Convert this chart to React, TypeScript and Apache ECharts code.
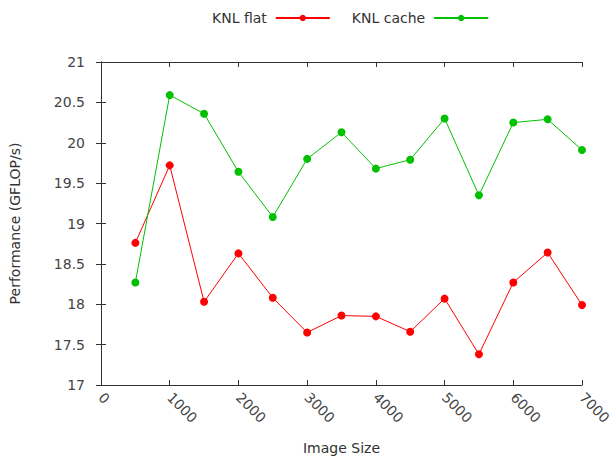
import React, { useEffect, useRef } from "react";
import * as echarts from "echarts";

const imageSizes = [500, 1000, 1500, 2000, 2500, 3000, 3500, 4000, 4500, 5000, 5500, 6000, 6500, 7000];
const knlFlat = [18.76, 19.72, 18.03, 18.63, 18.08, 17.65, 17.86, 17.85, 17.66, 18.07, 17.38, 18.27, 18.64, 17.99];
const knlCache = [18.27, 20.59, 20.36, 19.64, 19.08, 19.8, 20.13, 19.68, 19.79, 20.3, 19.35, 20.25, 20.29, 19.91];

const FONT = "DejaVu Sans";

export default function App() {
  const ref = useRef<HTMLDivElement>(null);
  useEffect(() => {
    const chart = echarts.init(ref.current!, null, { renderer: "svg" });
    const mk = (arr: number[]) => imageSizes.map((x, i) => [x, arr[i]]);
    const axisLine = { show: true, lineStyle: { color: "#333", width: 1 } };
    const tick = { show: true, inside: true, length: 5, lineStyle: { color: "#333" } };
    chart.setOption({
      animation: false,
      textStyle: { fontFamily: FONT },
      legend: {
        top: 6,
        left: 207,
        align: "right",
        itemWidth: 54,
        itemHeight: 8,
        itemGap: 21,
        textStyle: { fontFamily: FONT, fontSize: 14, color: "#333", padding: [0, 4, 0, 0] },
        data: ["KNL flat", "KNL cache"],
      },
      grid: { left: 101, right: 30, top: 62, bottom: 74, outerBoundsMode: "none" },
      xAxis: [
        {
          type: "value",
          min: 0,
          max: 7000,
          interval: 1000,
          name: "Image Size",
          nameLocation: "middle",
          nameGap: 56,
          nameTextStyle: { fontFamily: FONT, fontSize: 14, color: "#333" },
          axisLine,
          axisTick: tick,
          splitLine: { show: false },
          axisLabel: {
            rotate: -45,
            fontFamily: FONT,
            fontSize: 14,
            color: "#444",
            margin: 10,
            formatter: (v: number) => String(v),
          },
        },
        {
          type: "value",
          position: "top",
          min: 0,
          max: 7000,
          interval: 1000,
          axisLine,
          axisTick: tick,
          splitLine: { show: false },
          axisLabel: { show: false },
        },
      ],
      yAxis: [
        {
          type: "value",
          min: 17,
          max: 21,
          interval: 0.5,
          name: "Performance (GFLOP/s)",
          nameLocation: "middle",
          nameGap: 79,
          nameTextStyle: { fontFamily: FONT, fontSize: 14, color: "#333" },
          axisLine,
          axisTick: tick,
          splitLine: { show: false },
          axisLabel: { fontFamily: FONT, fontSize: 14, color: "#444", margin: 16 },
        },
        {
          type: "value",
          position: "right",
          min: 17,
          max: 21,
          interval: 0.5,
          axisLine,
          axisTick: tick,
          splitLine: { show: false },
          axisLabel: { show: false },
        },
      ],
      series: [
        {
          name: "KNL flat",
          type: "line",
          data: mk(knlFlat),
          symbol: "circle",
          symbolSize: 8,
          itemStyle: { color: "#ff0000" },
          lineStyle: { color: "#ff0000", width: 1 },
        },
        {
          name: "KNL cache",
          type: "line",
          data: mk(knlCache),
          symbol: "circle",
          symbolSize: 8,
          itemStyle: { color: "#00c000" },
          lineStyle: { color: "#00c000", width: 1 },
        },
      ],
    });
    return () => chart.dispose();
  }, []);
  return <div ref={ref} style={{ width: 612, height: 459, position: "absolute", left: 0, top: 0 }} />;
}
